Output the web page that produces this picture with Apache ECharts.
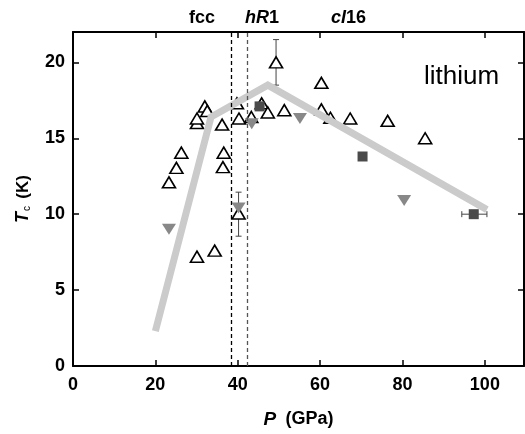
<!DOCTYPE html>
<html>
<head>
<meta charset="utf-8">
<script src="https://cdn.jsdelivr.net/npm/echarts@6/dist/echarts.min.js"></script>
<style>html,body{margin:0;padding:0;background:#fff;}#c{width:525px;height:434px;}</style>
</head>
<body>
<div id="c"></div>
<script>
// ---- data ----
const xTicks = [0, 20, 40, 60, 80, 100];
const yTicks = [0, 5, 10, 15, 20];
const openTriangles = [
  [23.3, 12.1], [25.1, 13.05], [26.3, 14.05], [30.1, 16.0], [30.1, 16.3],
  [32.0, 17.1], [32.6, 16.8], [36.2, 15.9], [36.6, 14.05], [36.4, 13.1],
  [30.1, 7.2], [34.4, 7.6], [40.2, 10.05], [39.8, 17.3], [40.3, 16.3],
  [43.3, 16.4], [45.8, 17.3], [47.3, 16.7], [49.3, 20.0], [51.3, 16.85],
  [60.3, 18.65], [60.3, 16.9], [62.5, 16.35], [67.3, 16.3], [76.4, 16.15],
  [85.5, 15.0]
];
const greyDown = [[23.3, 9.0], [40.2, 10.4], [43.4, 15.95], [55.1, 16.3], [80.4, 10.9]];
const squares = [[45.3, 17.1], [70.3, 13.8], [97.3, 10.0]];
const guideLine = [[20, 2.3], [33.5, 16.4], [47.3, 18.5], [100.5, 10.3]];
const vErrBars = [[49.3, 18.5, 21.5], [40.2, 8.55, 11.45]];   // x, yLow, yHigh
const hErrBars = [[10.0, 94.4, 100.5]];                        // y, xLow, xHigh
const phaseBounds = [38.5, 42.4];
const phaseLabels = ['fcc', 'hR1', 'cI16'];

const chart = echarts.init(document.getElementById('c'));
const FONT = 'Liberation Sans';
const tickFmt = (arr) => (v) => (arr.indexOf(v) >= 0 ? String(v) : '');

function errRender(params, api) {
  const kind = api.value(3);
  const cap = 3;
  let p1, p2, lines = [];
  if (kind === 0) {
    p1 = api.coord([api.value(0), api.value(1)]);
    p2 = api.coord([api.value(0), api.value(2)]);
    lines = [[p1[0], p1[1], p2[0], p2[1]], [p1[0]-cap, p1[1], p1[0]+cap, p1[1]], [p2[0]-cap, p2[1], p2[0]+cap, p2[1]]];
  } else {
    p1 = api.coord([api.value(1), api.value(0)]);
    p2 = api.coord([api.value(2), api.value(0)]);
    lines = [[p1[0], p1[1], p2[0], p2[1]], [p1[0], p1[1]-cap, p1[0], p1[1]+cap], [p2[0], p2[1]-cap, p2[0], p2[1]+cap]];
  }
  return {
    type: 'group',
    children: lines.map(l => ({
      type: 'line',
      shape: {x1: l[0], y1: l[1], x2: l[2], y2: l[3]},
      style: {stroke: '#444', lineWidth: 1}
    }))
  };
}
const errData = vErrBars.map(e => [e[0], e[1], e[2], 0]).concat(hErrBars.map(e => [e[0], e[1], e[2], 1]));

const axisLineStyle = {color: '#000', width: 2};
chart.setOption({
  animation: false,
  grid: {left: 73, right: 1, top: 32, bottom: 61},
  xAxis: [{
    type: 'value', min: 0, max: 109.5, interval: 20, position: 'bottom',
    axisLine: {show: true, onZero: false, lineStyle: axisLineStyle},
    axisTick: {show: true, inside: true, length: 6, lineStyle: {color: '#000', width: 1.5}},
    splitLine: {show: false},
    axisLabel: {formatter: tickFmt(xTicks), color: '#000', fontFamily: FONT, fontWeight: 'bold', fontSize: 18, margin: 10, showMaxLabel: false},
    name: '{i|P} {b|(GPa)}', nameLocation: 'middle', nameGap: 44,
    nameTextStyle: {rich: {
      i: {fontFamily: FONT, fontStyle: 'italic', fontWeight: 'bold', fontSize: 19, color: '#000'},
      b: {fontFamily: FONT, fontWeight: 'bold', fontSize: 18, color: '#000', padding: [0, 0, 0, 6]}
    }}
  }, {
    type: 'value', min: 0, max: 109.5, interval: 20, position: 'top',
    axisLine: {show: true, onZero: false, lineStyle: axisLineStyle},
    axisTick: {show: true, inside: true, length: 6, lineStyle: {color: '#000', width: 1.5}},
    axisLabel: {show: false}, splitLine: {show: false}
  }],
  yAxis: [{
    type: 'value', min: 0, max: 22, interval: 5, position: 'left',
    axisLine: {show: true, onZero: false, lineStyle: axisLineStyle},
    axisTick: {show: true, inside: true, length: 6, lineStyle: {color: '#000', width: 1.5}},
    splitLine: {show: false},
    axisLabel: {formatter: tickFmt(yTicks), color: '#000', fontFamily: FONT, fontWeight: 'bold', fontSize: 18, margin: 8, showMaxLabel: false},
    name: '{i|T}{s|c} {b|(K)}', nameLocation: 'middle', nameGap: 41,
    nameTextStyle: {rich: {
      i: {fontFamily: FONT, fontStyle: 'italic', fontWeight: 'bold', fontSize: 18, color: '#000'},
      s: {fontFamily: FONT, fontSize: 10, color: '#000', verticalAlign: 'bottom', padding: [8, 0, 0, 1]},
      b: {fontFamily: FONT, fontWeight: 'bold', fontSize: 17, color: '#000', padding: [0, 0, 0, 4]}
    }}
  }, {
    type: 'value', min: 0, max: 22, interval: 5, position: 'right',
    axisLine: {show: true, onZero: false, lineStyle: axisLineStyle},
    axisTick: {show: true, inside: true, length: 6, lineStyle: {color: '#000', width: 1.5}},
    axisLabel: {show: false}, splitLine: {show: false}
  }],
  graphic: [
    {type: 'text', left: 189, top: 9, style: {text: phaseLabels[0], font: 'bold 18px "Liberation Sans"', fill: '#000'}},
    {type: 'text', left: 245, top: 9, style: {
      text: '{i|h}{i|R}{b|1}', fill: '#000',
      rich: {i: {fontFamily: FONT, fontStyle: 'italic', fontWeight: 'bold', fontSize: 18}, b: {fontFamily: FONT, fontWeight: 'bold', fontSize: 18}}
    }},
    {type: 'text', left: 331, top: 9, style: {
      text: '{i|cI}{b|16}', fill: '#000',
      rich: {i: {fontFamily: FONT, fontStyle: 'italic', fontWeight: 'bold', fontSize: 18}, b: {fontFamily: FONT, fontWeight: 'bold', fontSize: 18}}
    }},
    {type: 'text', left: 424, top: 64, style: {text: 'lithium', font: '26px "Liberation Sans"', fill: '#000'}}
  ],
  series: [
    {
      type: 'line', data: [], xAxisIndex: 0, yAxisIndex: 0, silent: true,
      markLine: {
        symbol: ['none', 'none'], silent: true, label: {show: false},
        data: [
          {xAxis: phaseBounds[0], lineStyle: {color: '#000', type: [4, 3], width: 1.3}},
          {xAxis: phaseBounds[1], lineStyle: {color: '#555', type: [4, 3], width: 1.3}}
        ]
      }
    },
    {
      type: 'custom', renderItem: errRender, data: errData, z: 2,
      encode: {x: [0], y: [1, 2]}
    },
    {
      type: 'scatter', data: openTriangles, symbol: 'triangle', symbolSize: [13, 11], z: 3,
      itemStyle: {color: '#fff', borderColor: '#000', borderWidth: 1.6, opacity: 1}
    },
    {
      type: 'scatter', data: greyDown, symbol: 'triangle', symbolRotate: 180, symbolSize: [14, 11], z: 3,
      itemStyle: {color: '#888', opacity: 1}
    },
    {
      type: 'scatter', data: squares, symbol: 'rect', symbolSize: 10, z: 3,
      itemStyle: {color: '#4a4a4a', opacity: 1}
    },
    {
      type: 'line', data: guideLine, symbol: 'none', z: 4,
      lineStyle: {color: '#cbcbcb', width: 7, cap: 'butt', join: 'miter'}
    }
  ]
});
</script>
</body>
</html>
